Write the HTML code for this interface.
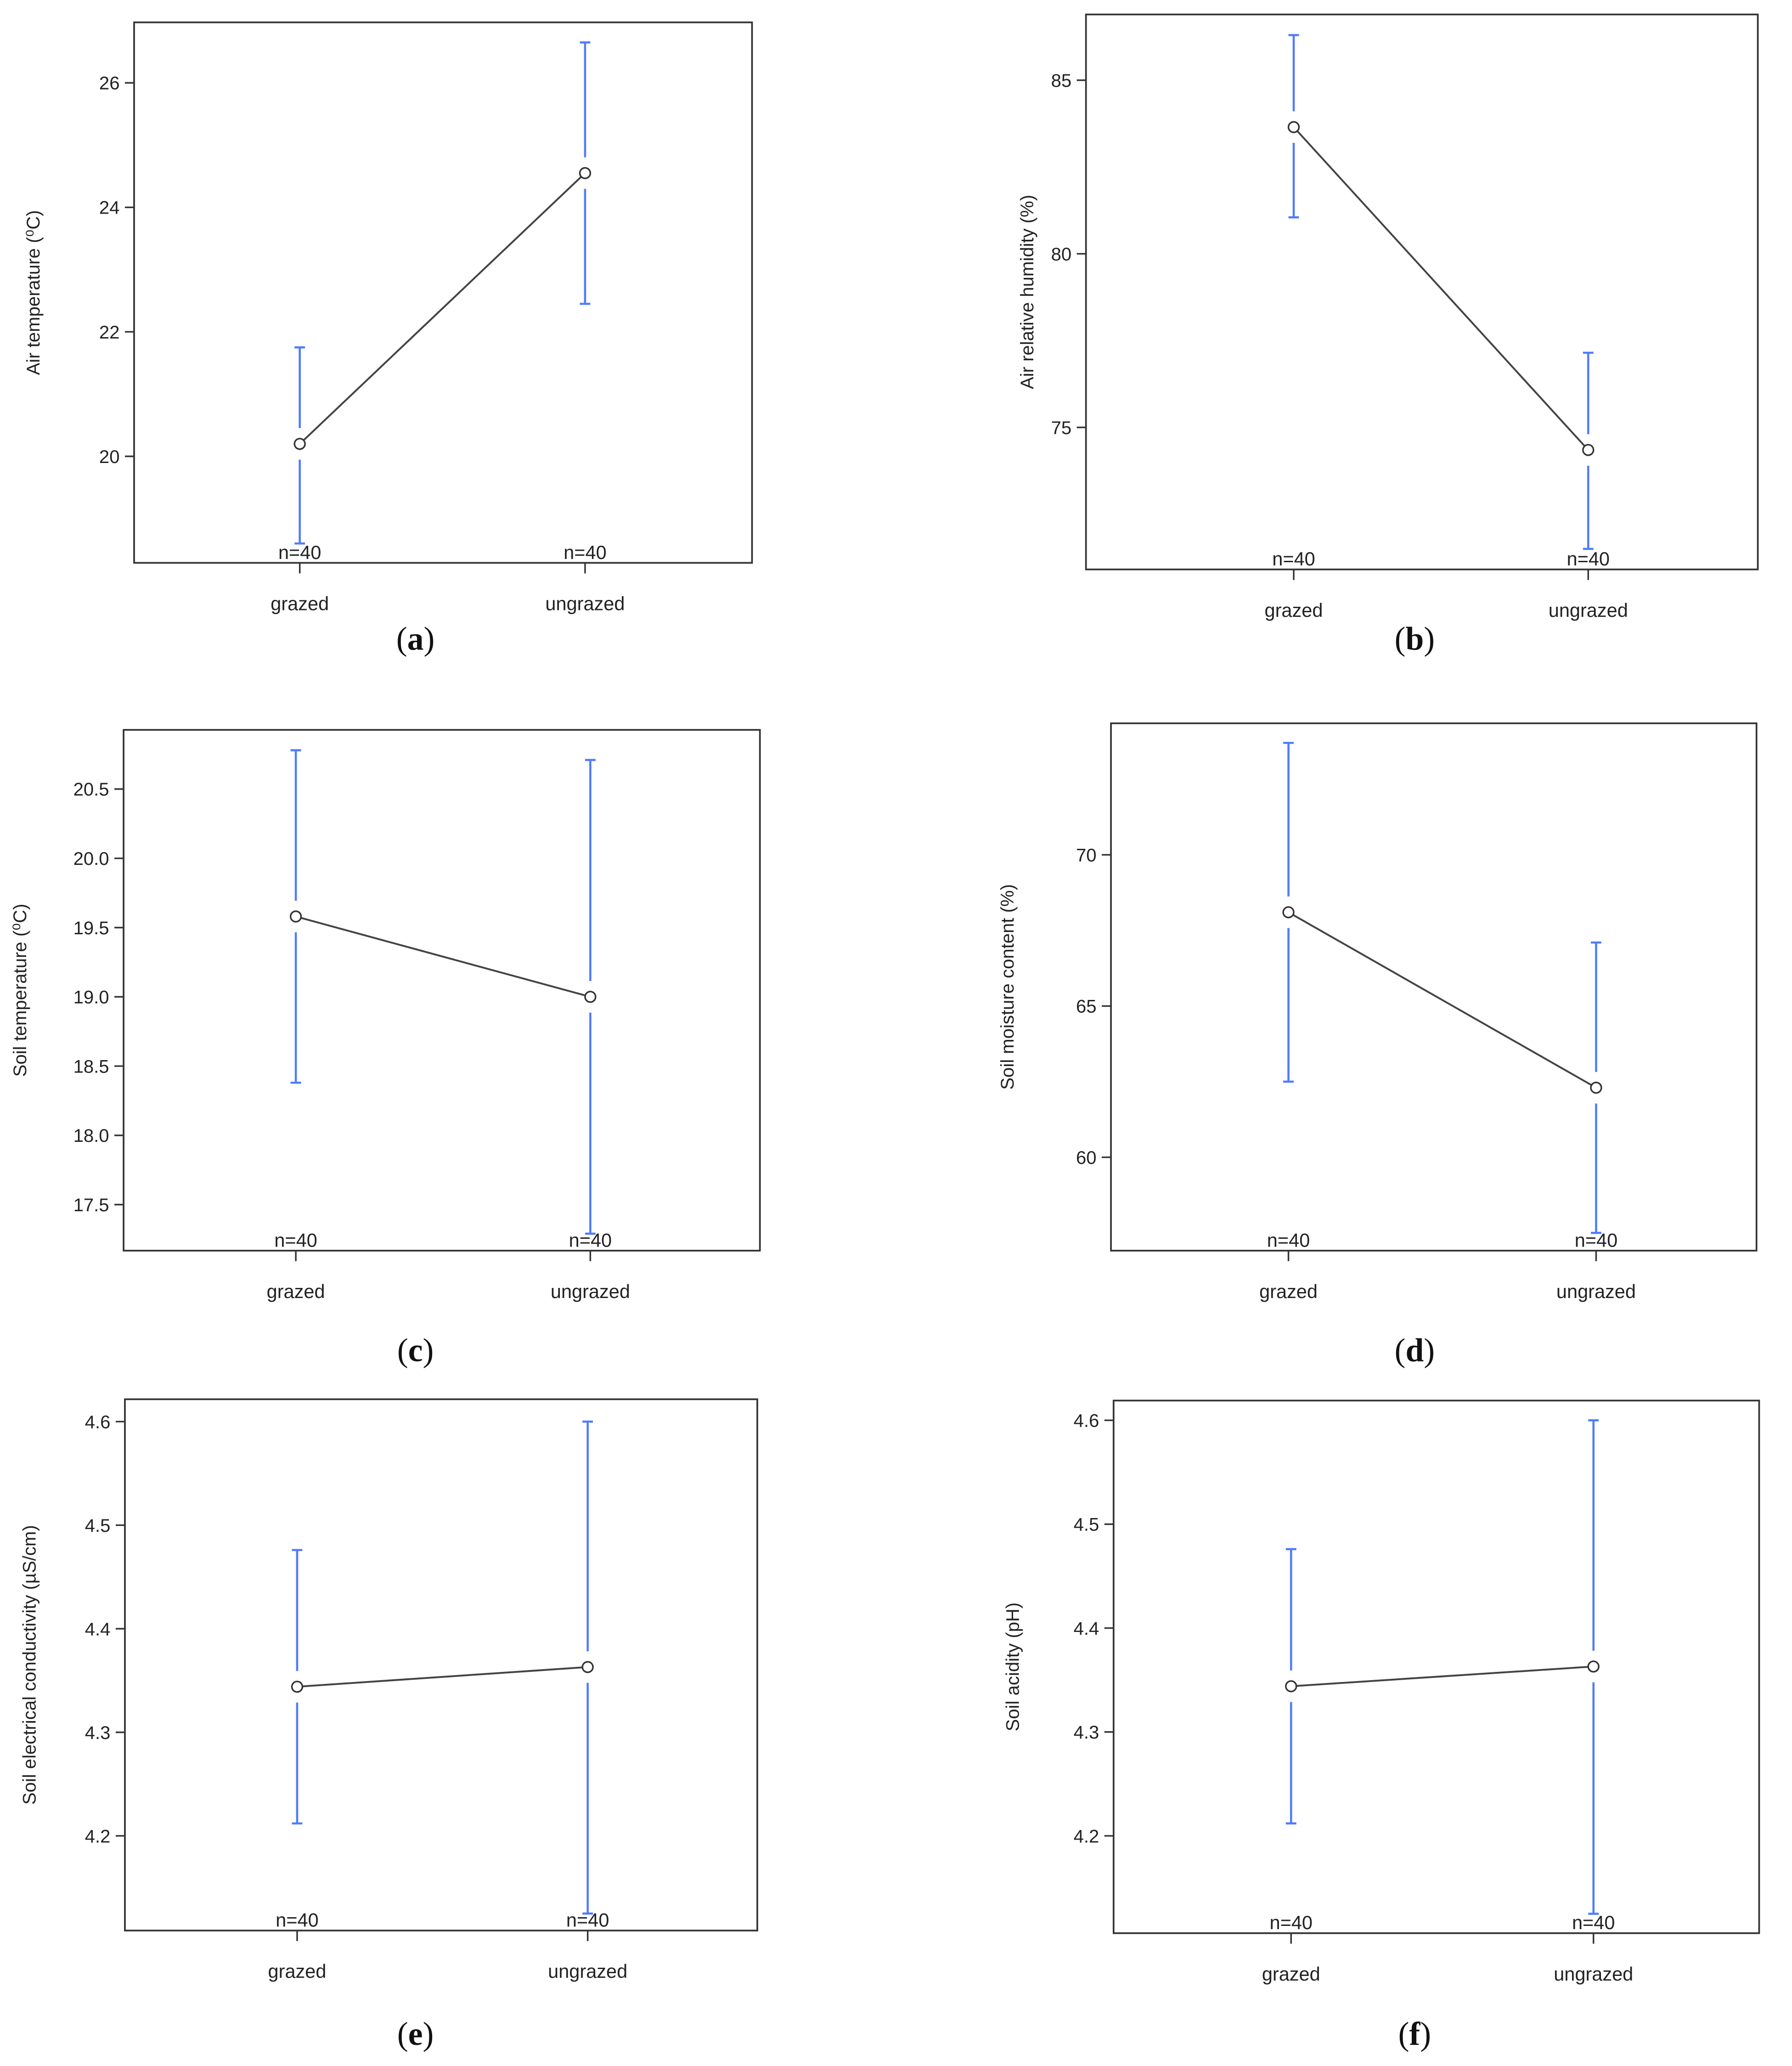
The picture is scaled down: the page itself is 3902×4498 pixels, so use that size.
<!DOCTYPE html>
<html><head><meta charset="utf-8"><style>
html,body{margin:0;padding:0;background:#fff;}
svg{display:block;}
text{font-family:"Liberation Sans",Arial,sans-serif;fill:#222;}
.cap{font-family:"Liberation Serif",serif;font-size:25px;fill:#111;}
</style></head><body>
<svg id="fig" width="3902" height="4498" viewBox="0 0 1363 1571" preserveAspectRatio="none" xmlns="http://www.w3.org/2000/svg"></svg>
<script>
const categories = ["grazed","ungrazed"];
const nLabels = ["n=40","n=40"];
const meansA = [20.2, 24.55];  const upA = [21.75, 26.65]; const loA = [18.6, 22.45];
const meansB = [83.65, 74.35]; const upB = [86.3, 77.15];  const loB = [81.05, 71.5];
const meansC = [19.58, 19.0];  const upC = [20.78, 20.71]; const loC = [18.38, 17.29];
const meansD = [68.1, 62.3];   const upD = [73.7, 67.1];   const loD = [62.5, 57.5];
const meansE = [4.344, 4.363]; const upE = [4.476, 4.6];   const loE = [4.212, 4.125];
const meansF = [4.344, 4.363]; const upF = [4.476, 4.6];   const loF = [4.212, 4.125];
const ticksA = [20,22,24,26]; const ticksB = [75,80,85];
const ticksC = [17.5,18.0,18.5,19.0,19.5,20.0,20.5]; const ticksD = [60,65,70];
const ticksE = [4.2,4.3,4.4,4.5,4.6]; const ticksF = [4.2,4.3,4.4,4.5,4.6];

const NS="http://www.w3.org/2000/svg";
const svg=document.getElementById('fig');
function mk(tag,attrs,parent,txt){const e=document.createElementNS(NS,tag);for(const k in attrs)e.setAttribute(k,attrs[k]);if(txt!==undefined)e.textContent=txt;(parent||svg).appendChild(e);return e;}

const panels=[
 {id:'a',box:[102,17,572,428],xs:[228,445],y0:[20,347],y1:[26,63],means:meansA,up:upA,lo:loA,ticks:ticksA,dec:0,title:"Air temperature (\u2070C)",tx:30,cap:[316,494],lab:'a'},
 {id:'b',box:[826,11,1337,433],xs:[984,1208],y0:[75,325],y1:[85,61],means:meansB,up:upB,lo:loB,ticks:ticksB,dec:0,title:"Air relative humidity (%)",tx:786,cap:[1076,494],lab:'b'},
 {id:'c',box:[94,555,578,951],xs:[225,449],y0:[17.5,916],y1:[20.5,600],means:meansC,up:upC,lo:loC,ticks:ticksC,dec:1,title:"Soil temperature (\u2070C)",tx:20,cap:[316,1035],lab:'c'},
 {id:'d',box:[845,550,1336,951],xs:[980,1214],y0:[60,880],y1:[70,650],means:meansD,up:upD,lo:loD,ticks:ticksD,dec:0,title:"Soil moisture content (%)",tx:771,cap:[1076,1035],lab:'d'},
 {id:'e',box:[95,1064,576,1468],xs:[226,447],y0:[4.2,1396],y1:[4.6,1081],means:meansE,up:upE,lo:loE,ticks:ticksE,dec:1,title:"Soil electrical conductivity (\u00b5S/cm)",tx:27,cap:[316,1555],lab:'e'},
 {id:'f',box:[847,1065,1338,1470],xs:[982,1212],y0:[4.2,1396],y1:[4.6,1080],means:meansF,up:upF,lo:loF,ticks:ticksF,dec:1,title:"Soil acidity (pH)",tx:775,cap:[1076,1555],lab:'f'}
];

panels.forEach(p=>{
 const g=mk('g',{});
 
 
 const [x0,yt,x1,yb]=p.box;
 const Y=v=>p.y0[1]+(v-p.y0[0])*(p.y1[1]-p.y0[1])/(p.y1[0]-p.y0[0]);
 const fr=mk('rect',{x:x0,y:yt,width:x1-x0,height:yb-yt,fill:'none',stroke:'#333','stroke-width':1.3},g);
 
 
 p.ticks.forEach(t=>{
  const y=Y(t);
  mk('line',{x1:x0-7,y1:y,x2:x0,y2:y,stroke:'#333','stroke-width':1.2},g);
  const tl=mk('text',{x:x0-11,y:y+5,'text-anchor':'end','font-size':14},g,t.toFixed(p.dec));
  
  
 });
 categories.forEach((c,i)=>{
  const x=p.xs[i];
  mk('line',{x1:x,y1:yb,x2:x,y2:yb+8,stroke:'#333','stroke-width':1.2},g);
  const xl=mk('text',{x:x,y:yb+36,'text-anchor':'middle','font-size':14.5},g,c);
  
  
  const ym=Y(p.means[i]),yu=Y(p.up[i]),yl=Y(p.lo[i]);
  const eb=mk('g',{stroke:'#4f7bff','stroke-width':1.6,fill:'none'},g);
  
  
  mk('line',{x1:x,y1:yu,x2:x,y2:Math.max(ym-12,yu)},eb);
  mk('line',{x1:x,y1:yl,x2:x,y2:Math.min(ym+12,yl)},eb);
  mk('line',{x1:x-4,y1:yu,x2:x+4,y2:yu},eb);
  mk('line',{x1:x-4,y1:yl,x2:x+4,y2:yl},eb);
  const nl=mk('text',{x:x,y:yb-3,'text-anchor':'middle','font-size':14.5},g,nLabels[i]);
  
  
 });
 const ln=mk('line',{x1:p.xs[0],y1:Y(p.means[0]),x2:p.xs[1],y2:Y(p.means[1]),stroke:'#444','stroke-width':1.4},g);
 
 
 p.means.forEach((m,i)=>{
  const pt=mk('circle',{cx:p.xs[i],cy:Y(m),r:4,fill:'#fff',stroke:'#333','stroke-width':1.2},g);
  
  
 });
 const cy=(yt+yb)/2;
 const yt2=mk('text',{x:p.tx,y:cy,'text-anchor':'middle','font-size':14,transform:'rotate(-90 '+p.tx+' '+cy+')'},g,p.title);
 
 
 const cp=mk('text',{x:p.cap[0],y:p.cap[1],'text-anchor':'middle',class:'cap'},g);
 
 
 mk('tspan',{},cp,'(');
 mk('tspan',{'font-weight':'bold'},cp,p.lab);
 mk('tspan',{},cp,')');
});
</script>
</body></html>
